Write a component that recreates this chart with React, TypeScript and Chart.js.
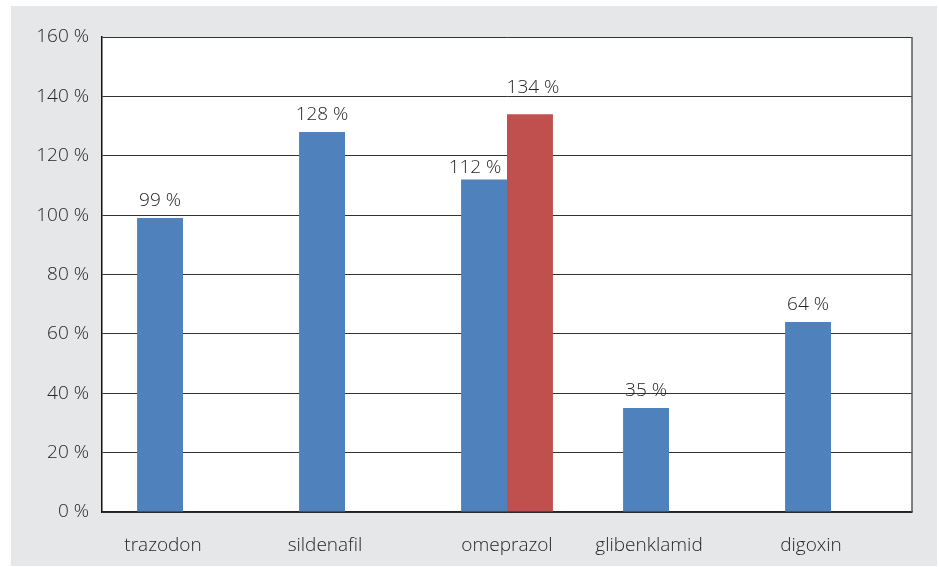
import React, { useEffect, useRef } from "react";
import { Chart, registerables } from "chart.js";

Chart.register(...registerables);

const categories = ["trazodon", "sildenafil", "omeprazol", "glibenklamid", "digoxin"];
const blueValues: (number | null)[] = [99, 128, 112, 35, 64];
const redValues: (number | null)[] = [null, null, 134, null, null];
const yTicks = [0, 20, 40, 60, 80, 100, 120, 140, 160];

const FONT = "'Open Sans', 'DejaVu Sans', sans-serif";
const TEXT = "#262626";
const SIZE = 19;
const WEIGHT = "300";

// manual label nudges (dataset-index -> [dx, dy]) as placed in the original
const labelNudge: Record<string, [number, number]> = {
  "0-2": [-9, 5],
  "1-2": [3, -9],
};

const framePlugin = {
  id: "frame",
  beforeDraw(chart: any) {
    const { ctx, chartArea } = chart;
    ctx.save();
    ctx.fillStyle = "#ffffff";
    ctx.fillRect(0, 0, chart.width, chart.height);
    ctx.fillStyle = "#e6e7e9";
    ctx.fillRect(11, 6, 926, 560);
    ctx.fillStyle = "#ffffff";
    ctx.fillRect(chartArea.left, chartArea.top, chartArea.right - chartArea.left, chartArea.bottom - chartArea.top);
    ctx.restore();
  },
  afterDatasetsDraw(chart: any) {
    const { ctx, chartArea } = chart;
    ctx.save();
    ctx.strokeStyle = "#5a5a5a";
    ctx.lineWidth = 1.5;
    ctx.beginPath();
    ctx.moveTo(chartArea.right, chartArea.top);
    ctx.lineTo(chartArea.right, chartArea.bottom);
    ctx.stroke();
    ctx.fillStyle = TEXT;
    ctx.font = `${WEIGHT} ${SIZE}px ${FONT}`;
    ctx.textAlign = "center";
    ctx.textBaseline = "alphabetic";
    chart.data.datasets.forEach((ds: any, di: number) => {
      const meta = chart.getDatasetMeta(di);
      meta.data.forEach((bar: any, i: number) => {
        const v = ds.data[i];
        if (v == null) return;
        const [dx, dy] = labelNudge[`${di}-${i}`] || [0, 0];
        ctx.fillText(`${v} %`, bar.x + dx, bar.y - 12 + dy);
      });
    });
    const xScale = chart.scales.x;
    const blueMeta = chart.getDatasetMeta(0);
    categories.forEach((c, i) => {
      const hasRed = redValues[i] != null;
      const x = hasRed ? xScale.getPixelForValue(i) : blueMeta.data[i].x + 3;
      ctx.fillText(c, x, chartArea.bottom + 39);
    });
    ctx.restore();
  },
};

export default function App() {
  const ref = useRef<HTMLCanvasElement>(null);
  useEffect(() => {
    if (!ref.current) return;
    const chart = new Chart(ref.current, {
      type: "bar",
      data: {
        labels: categories,
        datasets: [
          { data: blueValues, backgroundColor: "#4f81bd", categoryPercentage: 0.567, barPercentage: 1 },
          { data: redValues, backgroundColor: "#c0504d", categoryPercentage: 0.567, barPercentage: 1 },
        ],
      },
      options: {
        animation: false,
        responsive: false,
        maintainAspectRatio: false,
        layout: { padding: { left: 0, top: 37, right: 27, bottom: 0 } },
        plugins: { legend: { display: false }, tooltip: { enabled: false } },
        scales: {
          x: {
            grid: { display: false },
            border: { display: true, color: "#222", width: 1.5 },
            ticks: { display: false },
            afterFit(scale: any) {
              scale.height = 55;
            },
          },
          y: {
            min: 0,
            max: 160,
            afterBuildTicks(scale: any) {
              scale.ticks = yTicks.map((v) => ({ value: v }));
            },
            grid: { color: "#333", lineWidth: 1, drawTicks: false },
            border: { display: true, color: "#111", width: 1.5 },
            ticks: {
              color: TEXT,
              font: { family: FONT, size: SIZE, weight: WEIGHT },
              padding: 13,
              callback: (v: any) => `${v} %`,
            },
            afterFit(scale: any) {
              scale.width = 102;
            },
          },
        },
      },
      plugins: [framePlugin],
    });
    return () => chart.destroy();
  }, []);
  return (
    <div style={{ position: "fixed", left: 0, top: 0, width: 939, height: 567 }}>
      <canvas ref={ref} width={939} height={567} style={{ width: 939, height: 567, display: "block" }} />
    </div>
  );
}
